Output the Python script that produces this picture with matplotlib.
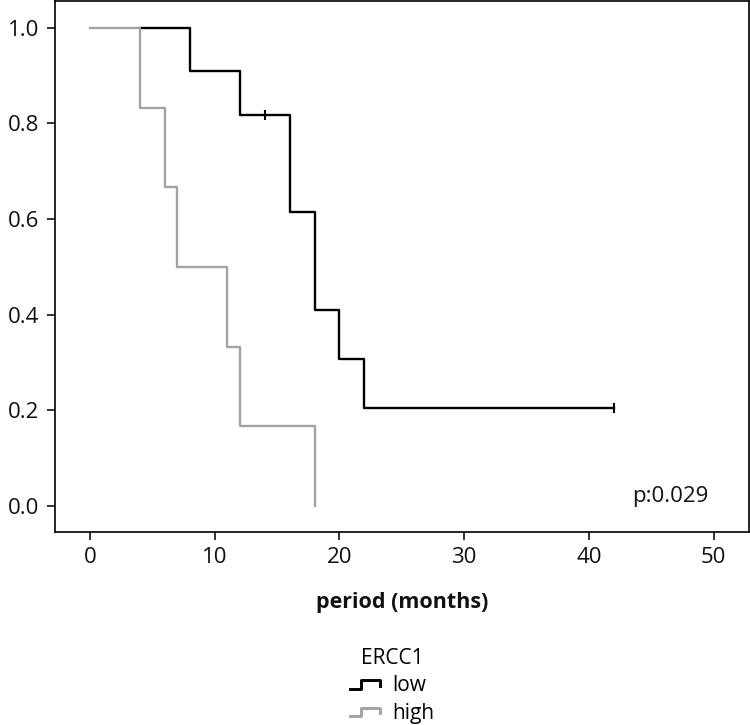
import matplotlib
matplotlib.use("Agg")
import matplotlib.pyplot as plt
from matplotlib.legend_handler import HandlerBase
from matplotlib.lines import Line2D

plt.rcParams['font.family'] = ['Open Sans', 'DejaVu Sans']

# Kaplan-Meier steps
low_t = [4, 8, 12, 16, 18, 20, 22, 42]
low_s = [1.0, 0.909, 0.818, 0.614, 0.409, 0.307, 0.205, 0.205]
low_cens_t = [14, 42]
low_cens_s = [0.818, 0.205]

high_t = [0, 4, 6, 7, 11, 12, 18]
high_s = [1.0, 0.833, 0.667, 0.5, 0.333, 0.167, 0.0]

x_ticks = [0, 10, 20, 30, 40, 50]
y_ticks = [0.0, 0.2, 0.4, 0.6, 0.8, 1.0]
p_text = "p:0.029"

BLACK = "#000000"
GRAY = "#a3a3a3"


class StepHandler(HandlerBase):
    def create_artists(self, legend, orig_handle, xdescent, ydescent,
                       width, height, fontsize, trans):
        x0 = -xdescent
        y0 = -ydescent
        xs = [x0, x0 + width * 0.38, x0 + width * 0.38, x0 + width, x0 + width]
        ys = [y0 + height * 0.15, y0 + height * 0.15, y0 + height * 0.75,
              y0 + height * 0.75, y0 + height * 0.4]
        ln = Line2D(xs, ys, color=orig_handle.get_color(),
                    lw=orig_handle.get_linewidth() + 0.4, transform=trans)
        return [ln]


fig = plt.figure(figsize=(7.5, 7.25), dpi=100)
ax = fig.add_axes([0.0733, 0.2662, 0.925, 0.7325])

l1, = ax.step(low_t, low_s, where='post', color=BLACK, lw=1.7, zorder=2)
ax.plot(low_cens_t, low_cens_s, ls='none', marker='|', ms=7, mew=1.5,
        color=BLACK, zorder=2)
l2, = ax.step(high_t, high_s, where='post', color=GRAY, lw=1.7, zorder=3)

ax.set_xlim(-2.8, 52.8)
ax.set_ylim(-0.054, 1.056)
ax.set_xticks(x_ticks)
ax.set_yticks(y_ticks)
ax.set_yticklabels([f"{v:.1f}" for v in y_ticks])
ax.tick_params(direction='out', length=6, width=1.2, labelsize=16,
               pad=5, colors='#111111')
for sp in ax.spines.values():
    sp.set_linewidth(1.2)

ax.set_xlabel("period (months)", fontsize=15.5, fontweight='bold',
              labelpad=17, color='#111111')
ax.text(49.6, 0.02, p_text, ha='right', va='center', fontsize=16,
        color='#111111')

leg = fig.legend([l1, l2], ["low", "high"], title="ERCC1",
                 handler_map={Line2D: StepHandler()},
                 loc='upper center', bbox_to_anchor=(0.523, 0.106),
                 frameon=False, fontsize=15, title_fontsize=15,
                 handlelength=1.4, handletextpad=0.6, labelspacing=0.3,
                 borderpad=0.0, borderaxespad=0.0)

fig.savefig("out.png", dpi=100)
